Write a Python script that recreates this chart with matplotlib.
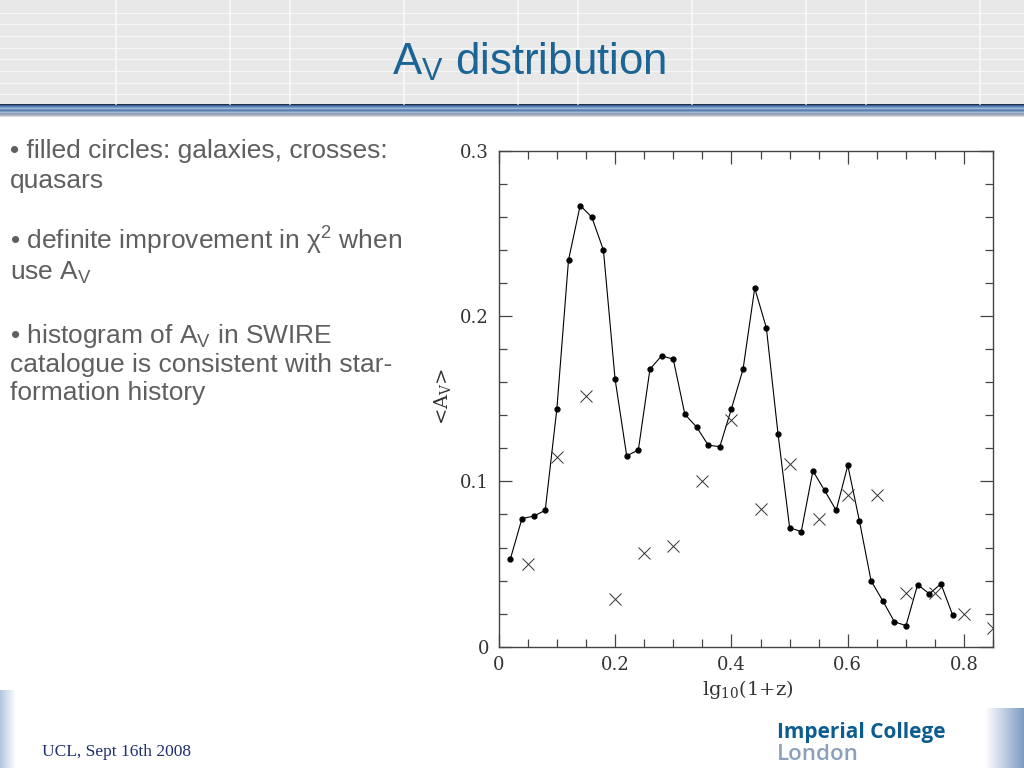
"""
A_V distribution slide: galaxies (filled circles) and quasars (crosses) vs lg10(1+z).
"""

import numpy as np
import matplotlib
matplotlib.use('Agg')
import matplotlib.pyplot as plt
from matplotlib.patches import Rectangle
from matplotlib.colors import LinearSegmentedColormap
from matplotlib.ticker import MultipleLocator, FuncFormatter

plt.rcParams['mathtext.fontset'] = 'custom'
plt.rcParams['mathtext.rm'] = 'DejaVu Serif'
plt.rcParams['mathtext.it'] = 'DejaVu Serif:italic'
plt.rcParams['mathtext.sf'] = 'Liberation Sans'

# galaxies: mean A_V per redshift bin
gal_x = [0.02, 0.04, 0.06, 0.08, 0.10, 0.12, 0.14, 0.16, 0.18, 0.20,
         0.22, 0.24, 0.26, 0.28, 0.30, 0.32, 0.34, 0.36, 0.38, 0.40,
         0.42, 0.44, 0.46, 0.48, 0.50, 0.52, 0.54, 0.56, 0.58, 0.60,
         0.62, 0.64, 0.66, 0.68, 0.70, 0.72, 0.74, 0.76, 0.78]
gal_y = [0.053, 0.0775, 0.079, 0.0825, 0.144, 0.234, 0.267, 0.260, 0.240, 0.162,
         0.1155, 0.119, 0.168, 0.176, 0.174, 0.1406, 0.133, 0.122, 0.121, 0.144,
         0.168, 0.217, 0.193, 0.129, 0.072, 0.0696, 0.1064, 0.0946, 0.0825, 0.1097,
         0.076, 0.0398, 0.0278, 0.0151, 0.0127, 0.0376, 0.032, 0.038, 0.0193]

# quasars
qso_x = [0.05, 0.10, 0.15, 0.20, 0.25, 0.30, 0.35, 0.40, 0.45,
         0.50, 0.55, 0.60, 0.65, 0.70, 0.75, 0.80, 0.85]
qso_y = [0.050, 0.1147, 0.1515, 0.0286, 0.0564, 0.0612, 0.100, 0.1374, 0.0835,
         0.1107, 0.0775, 0.092, 0.0916, 0.0326, 0.0326, 0.0197, 0.0115]

bullet_lines = [
    (158, '\u2022 filled circles: galaxies, crosses:'),
    (188, 'quasars'),
    (250, '\u2022 definite improvement in \u03c7$^\\mathsf{2}$ when'),
    (280, 'use A$_\\mathsf{V}$'),
    (343, '\u2022 histogram of A$_\\mathsf{V}$ in SWIRE'),
    (372, 'catalogue is consistent with star-'),
    (400, 'formation history'),
]

fig = plt.figure(figsize=(10.24, 7.68), dpi=100)

# --- slide decoration, in pixel coordinates ---
bg = fig.add_axes([0, 0, 1, 1], zorder=0)
bg.axis('off')

bg.add_patch(Rectangle((0, 0), 1024, 104, color='#e8e8e8', lw=0))
for yy in [12.7, 24.3, 36, 47.6, 59.2, 70.8, 82.5, 94.2]:
    bg.plot([0, 1024], [yy, yy], color='#f7f7f7', lw=0.9)
for xx in [116, 230, 290, 404, 518, 578, 692, 806, 866, 980]:
    bg.plot([xx, xx], [0, 104], color='#fafafa', lw=1.1)

band_colors = ['#1e2d4a', '#3d5f8f', '#5b82b5', '#7a9cc6', '#9bb6d6', '#6f8fbd',
               '#5d7fae', '#7e9cc2', '#a5b9d2', '#8ea3be', '#9aa3ae', '#b8bcc2', '#d9dadc']
for i, c in enumerate(band_colors):
    bg.add_patch(Rectangle((0, 104 + i), 1024, 1, color=c, lw=0))

grad = np.linspace(0, 1, 64).reshape(1, -1)
bg.imshow(grad, extent=[985, 1024, 768, 708], aspect='auto',
          cmap=LinearSegmentedColormap.from_list('r', ['#ffffff', '#7f9cc4']))
bg.imshow(grad, extent=[0, 16, 768, 690], aspect='auto',
          cmap=LinearSegmentedColormap.from_list('l', ['#b3c6e0', '#ffffff']))
bg.set_xlim(0, 1024)
bg.set_ylim(768, 0)

bg.text(529, 62, 'A$_\\mathsf{V}$ distribution', ha='center', va='center',
        fontsize=31.5, color='#1b6496', family='Liberation Sans')

for yy, line in bullet_lines:
    bg.text(10, yy, line, ha='left', va='baseline', fontsize=19,
            color='#5f5f5f', family=['Liberation Sans', 'DejaVu Sans'])

bg.text(42, 756, 'UCL, Sept 16th 2008', ha='left', va='baseline', fontsize=12.5,
        color='#1f2f6f', family='Liberation Serif')
bg.text(777, 738, 'Imperial College', ha='left', va='baseline', fontsize=15,
        color='#0b5d91', family='Open Sans', weight='bold')
bg.text(777, 760, 'London', ha='left', va='baseline', fontsize=16,
        color='#8aa0bb', family='Open Sans', weight='semibold')

# --- the chart ---
ax = fig.add_axes([0.487, 0.158, 0.483, 0.6454], zorder=1)
ax.plot(gal_x, gal_y, '-', color='black', lw=0.8)
ax.plot(gal_x, gal_y, 'o', color='black', ms=3.5)
ax.plot(qso_x, qso_y, 'x', color='#333333', ms=9, mew=0.7)

ax.set_xlim(0, 0.85)
ax.set_ylim(0, 0.3)
ax.xaxis.set_major_locator(MultipleLocator(0.2))
ax.xaxis.set_minor_locator(MultipleLocator(0.05))
ax.yaxis.set_major_locator(MultipleLocator(0.1))
ax.yaxis.set_minor_locator(MultipleLocator(0.02))
fmt = FuncFormatter(lambda v, p: '0' if abs(v) < 1e-9 else f'{v:.1f}')
ax.xaxis.set_major_formatter(fmt)
ax.yaxis.set_major_formatter(fmt)

ax.tick_params(which='both', direction='in', top=True, right=True, colors='#444444')
ax.tick_params(which='major', length=9.5, width=0.9, labelsize=13, pad=7)
ax.tick_params(which='minor', length=5.5, width=0.9)
for lab in ax.get_xticklabels() + ax.get_yticklabels():
    lab.set_family('DejaVu Serif')
    lab.set_color('#333333')
for s in ax.spines.values():
    s.set_color('#444444')
    s.set_linewidth(1.0)

ax.set_xlabel('lg$_{10}$(1+z)', fontsize=14, family='DejaVu Serif', color='#333333')
ax.set_ylabel('<A$_\\mathrm{V}$>', fontsize=14, family='DejaVu Serif', color='#333333')
ax.xaxis.set_label_coords(0.504, -0.063)
ax.yaxis.set_label_coords(-0.092, 0.504)

plt.savefig('out.png', dpi=100)
plt.close()
